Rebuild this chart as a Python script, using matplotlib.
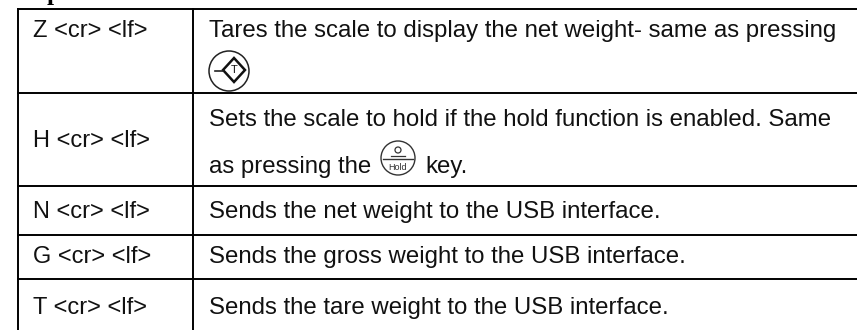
import matplotlib
matplotlib.use('Agg')
import matplotlib.pyplot as plt
from matplotlib.patches import Circle, Polygon

plt.rcParams['font.family'] = ['Liberation Sans', 'DejaVu Sans']

W = 857
H = 330

# table text, y is the text baseline
commands = ['Z <cr> <lf>', 'H <cr> <lf>', 'N <cr> <lf>', 'G <cr> <lf>', 'T <cr> <lf>']
command_y = [37, 147, 218, 263, 314]
descriptions = [
    'Tares the scale to display the net weight- same as pressing',
    'Sets the scale to hold if the hold function is enabled. Same',
    'as pressing the',
    'key.',
    'Sends the net weight to the USB interface.',
    'Sends the gross weight to the USB interface.',
    'Sends the tare weight to the USB interface.',
]
description_x = [209, 209, 209, 425, 209, 209, 209]
description_y = [37, 126, 173, 173, 218, 263, 314]

# grid lines, the last row runs off the bottom of the picture
row_lines = [9, 93, 186, 235, 279]
col_lines = [18, 193]

fig = plt.figure(figsize=(W / 100, H / 100), dpi=100)
ax = fig.add_axes([0, 0, 1, 1])
ax.set_xlim(0, W)
ax.set_ylim(H, 0)
ax.axis('off')

for y in row_lines:
    ax.plot([17, W], [y, y], color='black', lw=1.4, solid_capstyle='butt')
for x in col_lines:
    ax.plot([x, x], [8, H], color='black', lw=1.4, solid_capstyle='butt')

for c, y in zip(commands, command_y):
    ax.text(33, y, c, fontsize=17.05, va='baseline', ha='left', color='#111111')
for d, x, y in zip(descriptions, description_x, description_y):
    ax.text(x, y, d, fontsize=17.25, va='baseline', ha='left', color='#111111')

# tare key icon
ax.add_patch(Circle((229, 71), 20, fc='white', ec='#222222', lw=1.1))
ax.add_patch(Polygon([(223, 70), (234, 58), (245, 70), (234, 82)], closed=True, fc='white', ec='#111111', lw=1.8))
ax.plot([215, 223], [71, 71], color='#222222', lw=1.2)
ax.text(234, 70, 'T', fontsize=8, ha='center', va='center', color='#111111')

# hold key icon
ax.add_patch(Circle((398, 158), 17, fc='white', ec='#333333', lw=1))
ax.plot([383, 413], [159, 159], color='#333333', lw=1)
ax.add_patch(Circle((398, 150), 3, fc='white', ec='#333333', lw=0.9))
ax.plot([391, 405], [155.5, 155.5], color='#333333', lw=0.9)
ax.text(398, 167, 'Hold', fontsize=6.5, ha='center', va='center', color='#333333')

# cut off heading at the top
ax.text(47, 0, 'p', fontsize=18, fontweight='bold', family=['Liberation Serif'], ha='left', va='baseline', color='black')

fig.savefig('out.png', dpi=100)
